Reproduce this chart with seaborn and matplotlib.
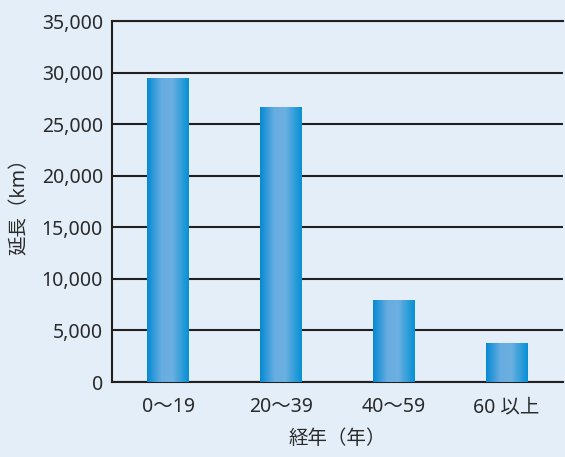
import numpy as np
import pandas as pd
import matplotlib
matplotlib.use("Agg")
import matplotlib.pyplot as plt
import seaborn as sns
from matplotlib.colors import LinearSegmentedColormap
from matplotlib.ticker import FuncFormatter, FixedLocator

# ---- data ----
categories = ["0〜19", "20〜39", "40〜59", "60 以上"]
lengths_km = [29450, 26650, 7950, 3780]
y_ticks = [0, 5000, 10000, 15000, 20000, 25000, 30000, 35000]
x_label = "経年（年）"
y_label = "延長（km）"

sns.set_theme(style="white")
plt.rcParams["font.family"] = ["Noto Sans", "Noto Sans CJK JP", "DejaVu Sans"]

bg = "#e3eef8"
ink = "#231f20"
txt = "#2a2a2a"
fs = 14

fig = plt.figure(figsize=(5.65, 4.57), dpi=100, facecolor=bg)
ax = fig.add_axes([112 / 565, 1 - 382 / 457, (563 - 112) / 565, (382 - 21) / 457])
ax.set_facecolor(bg)

df = pd.DataFrame({"age": categories, "km": lengths_km})
sns.barplot(data=df, x="age", y="km", ax=ax, width=0.372, color="#0a8fd6",
            saturation=1, zorder=3, edgecolor="none", linewidth=0)

# horizontal gradient on each bar
cmap = LinearSegmentedColormap.from_list(
    "bar", [(0.0, "#0589d3"), (0.35, "#68ade0"), (0.6, "#6cb0e1"), (1.0, "#0590d5")])
grad = np.linspace(0, 1, 256).reshape(1, -1)
for p in list(ax.patches):
    x0, y0, w, h = p.get_x(), p.get_y(), p.get_width(), p.get_height()
    im = ax.imshow(grad, extent=[x0, x0 + w, y0, y0 + h], aspect="auto",
                   cmap=cmap, zorder=3.5, interpolation="bicubic")
    im.set_clip_path(p)

ax.set_xlim(-0.5, len(categories) - 0.5)
ax.set_ylim(0, y_ticks[-1])
ax.set_aspect("auto")

ax.yaxis.set_major_locator(FixedLocator(y_ticks))
ax.yaxis.set_major_formatter(FuncFormatter(lambda v, _: f"{v:,.0f}"))
ax.yaxis.grid(True, color=ink, lw=1.5)
ax.set_axisbelow(True)

for s in ["left", "bottom", "top"]:
    ax.spines[s].set_visible(True)
    ax.spines[s].set_color(ink)
    ax.spines[s].set_linewidth(1.5)
ax.spines["right"].set_visible(False)

ax.set_xticks(range(len(categories)))
ax.set_xticklabels(categories)
ax.set_xticks(np.arange(len(categories)) + 0.5, minor=True)
ax.tick_params(axis="x", which="major", length=0, pad=11, labelsize=fs, labelcolor=txt)
ax.tick_params(axis="x", which="minor", direction="in", length=8, width=1.5, color=ink)
ax.tick_params(axis="y", which="major", length=0, pad=6.5, labelsize=fs, labelcolor=txt)

ax.set_xlabel(x_label, fontsize=fs, color=txt)
ax.set_ylabel(y_label, fontsize=fs, color=txt)
ax.xaxis.set_label_coords(0.5, -0.13)
ax.yaxis.set_label_coords(-0.182, 0.5)

fig.savefig("out.png", dpi=100, facecolor=bg)
